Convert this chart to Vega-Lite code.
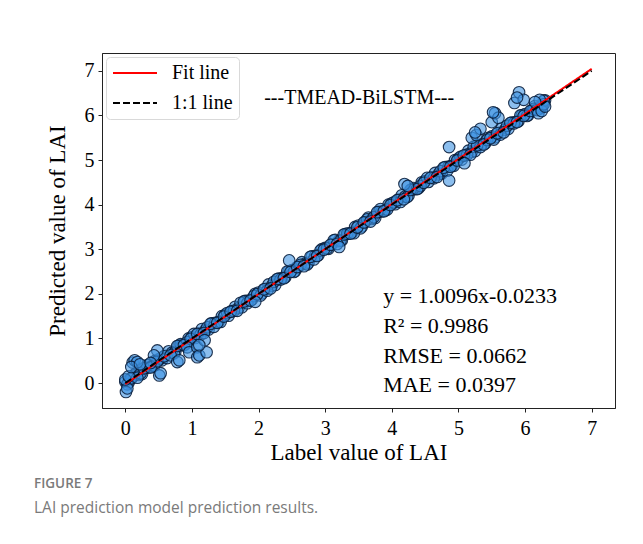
{
  "$schema": "https://vega.github.io/schema/vega-lite/v6.json",
  "width": 513,
  "height": 355,
  "autosize": {"type": "none"},
  "padding": {"left": 102, "top": 53, "right": 28, "bottom": 136},
  "background": "white",
  "title": {
    "text": "FIGURE 7",
    "subtitle": "LAI prediction model prediction results.",
    "orient": "bottom",
    "anchor": "start",
    "frame": "group",
    "offset": 13,
    "dx": -68,
    "font": "Open Sans",
    "fontSize": 13.5,
    "fontWeight": 600,
    "color": "#7a7a7a",
    "subtitleFont": "Open Sans",
    "subtitleFontSize": 15.5,
    "subtitleColor": "#7a7a7a",
    "subtitlePadding": 10
  },
  "datasets": {
    "points": [
      {"x":0.00,"y":0.03},{"x":0.05,"y":0.01},{"x":0.10,"y":0.11},{"x":0.15,"y":0.21},{"x":0.20,"y":0.18},{"x":0.25,"y":0.20},{"x":0.30,"y":0.34},{"x":0.35,"y":0.35},{"x":0.40,"y":0.37},{"x":0.45,"y":0.50},
      {"x":0.50,"y":0.53},{"x":0.55,"y":0.51},{"x":0.60,"y":0.61},{"x":0.65,"y":0.71},{"x":0.70,"y":0.68},{"x":0.75,"y":0.70},{"x":0.80,"y":0.84},{"x":0.85,"y":0.85},{"x":0.90,"y":0.87},{"x":0.95,"y":1.00},
      {"x":1.00,"y":1.03},{"x":1.05,"y":1.01},{"x":1.10,"y":1.11},{"x":1.15,"y":1.21},{"x":1.20,"y":1.18},{"x":1.25,"y":1.20},{"x":1.30,"y":1.34},{"x":1.35,"y":1.35},{"x":1.40,"y":1.37},{"x":1.45,"y":1.50},
      {"x":1.50,"y":1.53},{"x":1.55,"y":1.51},{"x":1.60,"y":1.61},{"x":1.65,"y":1.71},{"x":1.70,"y":1.68},{"x":1.75,"y":1.70},{"x":1.80,"y":1.84},{"x":1.85,"y":1.85},{"x":1.90,"y":1.87},{"x":1.95,"y":2.00},
      {"x":2.00,"y":2.03},{"x":2.05,"y":2.01},{"x":2.10,"y":2.11},{"x":2.15,"y":2.21},{"x":2.20,"y":2.18},{"x":2.25,"y":2.20},{"x":2.30,"y":2.34},{"x":2.35,"y":2.35},{"x":2.40,"y":2.37},{"x":2.45,"y":2.50},
      {"x":2.50,"y":2.53},{"x":2.55,"y":2.51},{"x":2.60,"y":2.61},{"x":2.65,"y":2.71},{"x":2.70,"y":2.68},{"x":2.75,"y":2.70},{"x":2.80,"y":2.84},{"x":2.85,"y":2.85},{"x":2.90,"y":2.87},{"x":2.95,"y":3.00},
      {"x":3.00,"y":3.03},{"x":3.05,"y":3.01},{"x":3.10,"y":3.11},{"x":3.15,"y":3.21},{"x":3.20,"y":3.18},{"x":3.25,"y":3.20},{"x":3.30,"y":3.34},{"x":3.35,"y":3.35},{"x":3.40,"y":3.37},{"x":3.45,"y":3.50},
      {"x":3.50,"y":3.53},{"x":3.55,"y":3.51},{"x":3.60,"y":3.61},{"x":3.65,"y":3.71},{"x":3.70,"y":3.68},{"x":3.75,"y":3.70},{"x":3.80,"y":3.84},{"x":3.85,"y":3.85},{"x":3.90,"y":3.87},{"x":3.95,"y":4.00},
      {"x":4.00,"y":4.03},{"x":4.05,"y":4.01},{"x":4.10,"y":4.11},{"x":4.15,"y":4.21},{"x":4.20,"y":4.18},{"x":4.25,"y":4.20},{"x":4.30,"y":4.34},{"x":4.35,"y":4.35},{"x":4.40,"y":4.37},{"x":4.45,"y":4.50},
      {"x":4.50,"y":4.53},{"x":4.55,"y":4.51},{"x":4.60,"y":4.61},{"x":4.65,"y":4.71},{"x":4.70,"y":4.68},{"x":4.75,"y":4.70},{"x":4.80,"y":4.84},{"x":4.85,"y":4.85},{"x":4.90,"y":4.87},{"x":4.95,"y":5.00},
      {"x":5.00,"y":5.03},{"x":5.05,"y":5.01},{"x":5.10,"y":5.11},{"x":5.15,"y":5.21},{"x":5.20,"y":5.18},{"x":5.25,"y":5.20},{"x":5.30,"y":5.34},{"x":5.35,"y":5.35},{"x":5.40,"y":5.37},{"x":5.45,"y":5.50},
      {"x":5.50,"y":5.53},{"x":5.55,"y":5.51},{"x":5.60,"y":5.61},{"x":5.65,"y":5.71},{"x":5.70,"y":5.68},{"x":5.75,"y":5.70},{"x":5.80,"y":5.84},{"x":5.85,"y":5.85},{"x":5.90,"y":5.87},{"x":5.95,"y":6.00},
      {"x":6.00,"y":6.03},{"x":6.05,"y":6.01},{"x":6.10,"y":6.11},{"x":6.15,"y":6.21},{"x":6.20,"y":6.18},{"x":6.25,"y":6.20},{"x":6.30,"y":6.34},
      {"x":0.03,"y":-0.03},{"x":0.13,"y":0.17},{"x":0.23,"y":0.22},{"x":0.33,"y":0.40},{"x":0.43,"y":0.39},{"x":0.53,"y":0.55},{"x":0.63,"y":0.56},{"x":0.73,"y":0.67},{"x":0.83,"y":0.87},{"x":0.93,"y":0.92},
      {"x":1.03,"y":1.10},{"x":1.13,"y":1.09},{"x":1.23,"y":1.25},{"x":1.33,"y":1.26},{"x":1.43,"y":1.37},{"x":1.53,"y":1.57},{"x":1.63,"y":1.62},{"x":1.73,"y":1.80},{"x":1.83,"y":1.79},{"x":1.93,"y":1.95},
      {"x":2.03,"y":1.96},{"x":2.13,"y":2.07},{"x":2.23,"y":2.27},{"x":2.33,"y":2.32},{"x":2.43,"y":2.50},{"x":2.53,"y":2.49},{"x":2.63,"y":2.65},{"x":2.73,"y":2.66},{"x":2.83,"y":2.77},{"x":2.93,"y":2.97},
      {"x":3.03,"y":3.02},{"x":3.13,"y":3.20},{"x":3.23,"y":3.19},{"x":3.33,"y":3.35},{"x":3.43,"y":3.36},{"x":3.53,"y":3.47},{"x":3.63,"y":3.67},{"x":3.73,"y":3.72},{"x":3.83,"y":3.90},{"x":3.93,"y":3.89},
      {"x":4.03,"y":4.05},{"x":4.13,"y":4.06},{"x":4.23,"y":4.17},{"x":4.33,"y":4.37},{"x":4.43,"y":4.42},{"x":4.53,"y":4.60},{"x":4.63,"y":4.59},{"x":4.73,"y":4.75},{"x":4.83,"y":4.76},{"x":4.93,"y":4.87},
      {"x":5.03,"y":5.07},{"x":5.13,"y":5.12},{"x":5.23,"y":5.30},{"x":5.33,"y":5.29},{"x":5.43,"y":5.45},{"x":5.53,"y":5.46},{"x":5.63,"y":5.57},{"x":5.73,"y":5.77},{"x":5.83,"y":5.82},{"x":5.93,"y":6.00},
      {"x":6.03,"y":5.99},{"x":6.13,"y":6.15},{"x":6.23,"y":6.16},
      {"x":0.08,"y":0.10},{"x":0.18,"y":0.12},{"x":0.28,"y":0.33},{"x":0.38,"y":0.35},{"x":0.48,"y":0.49},{"x":0.58,"y":0.60},{"x":0.68,"y":0.62},{"x":0.78,"y":0.83},{"x":0.88,"y":0.85},{"x":0.98,"y":0.99},
      {"x":1.08,"y":1.10},{"x":1.18,"y":1.12},{"x":1.28,"y":1.33},{"x":1.38,"y":1.35},{"x":1.48,"y":1.49},{"x":1.58,"y":1.60},{"x":1.68,"y":1.62},{"x":1.78,"y":1.83},{"x":1.88,"y":1.85},{"x":1.98,"y":1.99},
      {"x":2.08,"y":2.10},{"x":2.18,"y":2.12},{"x":2.28,"y":2.33},{"x":2.38,"y":2.35},{"x":2.48,"y":2.49},{"x":2.58,"y":2.60},{"x":2.68,"y":2.62},{"x":2.78,"y":2.83},{"x":2.88,"y":2.85},{"x":2.98,"y":2.99},
      {"x":3.08,"y":3.10},{"x":3.18,"y":3.12},{"x":3.28,"y":3.33},{"x":3.38,"y":3.35},{"x":3.48,"y":3.49},{"x":3.58,"y":3.60},{"x":3.68,"y":3.62},{"x":3.78,"y":3.83},{"x":3.88,"y":3.85},{"x":3.98,"y":3.99},
      {"x":4.08,"y":4.10},{"x":4.18,"y":4.12},{"x":4.28,"y":4.33},{"x":4.38,"y":4.35},{"x":4.48,"y":4.49},{"x":4.58,"y":4.60},{"x":4.68,"y":4.62},{"x":4.78,"y":4.83},{"x":4.88,"y":4.85},{"x":4.98,"y":4.99},
      {"x":5.08,"y":5.10},{"x":5.18,"y":5.12},{"x":5.28,"y":5.33},{"x":5.38,"y":5.35},{"x":5.48,"y":5.49},{"x":5.58,"y":5.60},{"x":5.68,"y":5.62},{"x":5.78,"y":5.83},{"x":5.88,"y":5.85},{"x":5.98,"y":5.99},
      {"x":6.08,"y":6.10},{"x":6.18,"y":6.12},{"x":6.28,"y":6.33},
      {"x":0.01,"y":-0.20},{"x":0.03,"y":-0.12},{"x":0.00,"y":0.08},{"x":0.05,"y":0.15},{"x":0.11,"y":0.46},{"x":0.14,"y":0.51},{"x":0.18,"y":0.47},{"x":0.09,"y":0.36},{"x":0.22,"y":0.42},
      {"x":0.48,"y":0.73},{"x":0.43,"y":0.62},{"x":0.51,"y":0.17},{"x":0.53,"y":0.22},{"x":0.38,"y":0.45},
      {"x":0.78,"y":0.47},{"x":0.81,"y":0.51},{"x":0.93,"y":0.80},{"x":0.96,"y":0.69},{"x":1.08,"y":0.80},{"x":1.08,"y":0.58},{"x":1.11,"y":0.62},{"x":1.22,"y":0.69},{"x":1.19,"y":0.96},{"x":1.11,"y":0.85},
      {"x":1.95,"y":1.82},{"x":2.46,"y":2.75},{"x":3.21,"y":3.05},
      {"x":4.19,"y":4.46},{"x":4.24,"y":4.42},{"x":4.86,"y":5.29},{"x":4.86,"y":4.54},{"x":5.09,"y":4.93},
      {"x":5.20,"y":5.50},{"x":5.27,"y":5.56},{"x":5.33,"y":5.70},{"x":5.25,"y":5.62},
      {"x":5.50,"y":5.85},{"x":5.55,"y":6.05},{"x":5.60,"y":5.95},{"x":5.52,"y":6.07},
      {"x":5.84,"y":6.28},{"x":5.91,"y":6.52},{"x":5.98,"y":6.35},{"x":5.88,"y":6.40},
      {"x":6.20,"y":6.05},{"x":6.25,"y":6.10},{"x":6.28,"y":6.25},{"x":6.22,"y":6.35},{"x":6.30,"y":6.20},{"x":6.15,"y":6.30}
    ],
    "lines": [
      {"series":"Fit line","x":0,"y":-0.0233},
      {"series":"Fit line","x":7,"y":7.0439},
      {"series":"1:1 line","x":0,"y":0},
      {"series":"1:1 line","x":7,"y":7}
    ],
    "model": [
      {"x":3.51,"y":6.40,"label":"---TMEAD-BiLSTM---"}
    ],
    "stats": [
      {"x":3.87,"y":1.95,"label":"y = 1.0096x-0.0233"},
      {"x":3.87,"y":1.28,"label":"R² = 0.9986"},
      {"x":3.87,"y":0.61,"label":"RMSE = 0.0662"},
      {"x":3.87,"y":-0.04,"label":"MAE = 0.0397"}
    ]
  },
  "encoding": {
    "x": {
      "field": "x", "type": "quantitative",
      "scale": {"domain": [-0.35, 7.35], "nice": false, "zero": false},
      "axis": {"values": [0,1,2,3,4,5,6,7], "title": "Label value of LAI", "labelPadding": 6, "titlePadding": 3}
    },
    "y": {
      "field": "y", "type": "quantitative",
      "scale": {"domain": [-0.56, 7.4], "nice": false, "zero": false},
      "axis": {"values": [0,1,2,3,4,5,6,7], "title": "Predicted value of LAI", "labelPadding": 4, "titlePadding": 15}
    }
  },
  "layer": [
    {
      "data": {"name": "points"},
      "mark": {"type": "circle", "size": 135, "fill": "#3d93e3", "fillOpacity": 0.6, "stroke": "#0a1f3d", "strokeOpacity": 0.9, "strokeWidth": 1.1}
    },
    {
      "data": {"name": "lines"},
      "mark": {"type": "line", "strokeWidth": 2},
      "encoding": {
        "color": {
          "field": "series", "type": "nominal",
          "scale": {"domain": ["Fit line", "1:1 line"], "range": ["#ff0000", "#000000"]},
          "legend": {"title": null, "orient": "top-left", "offset": 4, "padding": 6, "strokeColor": "#d9d9d9", "fillColor": "white", "cornerRadius": 4, "symbolType": "stroke", "symbolSize": 1936, "symbolStrokeWidth": 2, "clipHeight": 20, "labelFont": "Liberation Serif", "labelFontSize": 20, "labelColor": "black", "labelOffset": 14, "rowPadding": 10}
        },
        "strokeDash": {
          "field": "series", "type": "nominal",
          "scale": {"domain": ["Fit line", "1:1 line"], "range": [[1, 0], [7, 3]]},
          "legend": {"title": null, "orient": "top-left", "offset": 4, "padding": 6, "strokeColor": "#d9d9d9", "fillColor": "white", "cornerRadius": 4, "symbolType": "stroke", "symbolSize": 1936, "symbolStrokeWidth": 2, "clipHeight": 20, "labelFont": "Liberation Serif", "labelFontSize": 20, "labelColor": "black", "labelOffset": 14, "rowPadding": 10}
        }
      }
    },
    {
      "data": {"name": "model"},
      "mark": {"type": "text", "font": "Liberation Serif", "fontSize": 20, "align": "center", "baseline": "middle", "color": "black"},
      "encoding": {"text": {"field": "label"}}
    },
    {
      "data": {"name": "stats"},
      "mark": {"type": "text", "font": "Liberation Serif", "fontSize": 22, "align": "left", "baseline": "middle", "color": "black"},
      "encoding": {"text": {"field": "label"}}
    }
  ],
  "config": {
    "view": {"stroke": "#222222", "strokeWidth": 1},
    "axis": {
      "grid": false,
      "domainColor": "#222222",
      "tickColor": "#222222",
      "tickSize": 4,
      "labelFont": "Liberation Serif",
      "labelFontSize": 20,
      "labelColor": "black",
      "titleFont": "Liberation Serif",
      "titleFontSize": 23,
      "titleFontWeight": "normal",
      "titleColor": "black"
    }
  }
}
